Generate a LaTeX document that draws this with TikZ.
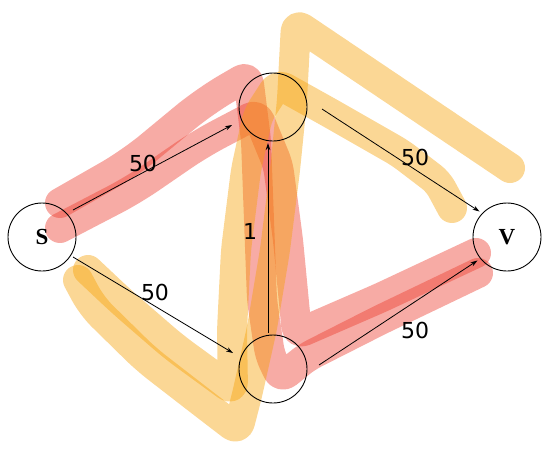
\documentclass[tikz,border=0pt]{standalone}
\usepackage{fontspec}
\newfontfamily\lblfont{DejaVu Sans}
\newfontfamily\vertfont{Liberation Serif}
\usetikzlibrary{arrows.meta}
\definecolor{hlred}{RGB}{236,60,46}
\definecolor{hlorange}{RGB}{246,162,9}
\begin{document}
\begin{tikzpicture}[x=1pt,y=-1pt,
  hl/.style={line width=30pt,line cap=round,line join=round,draw opacity=0.43,rounded corners=8pt},
  redhl/.style={hl,draw=hlred},
  orahl/.style={hl,draw=hlorange},
  vert/.style={circle,draw,line width=0.9pt,minimum size=68pt,inner sep=0pt,font=\vertfont\bfseries\fontsize{23}{25}\selectfont},
  elbl/.style={font=\lblfont\fontsize{22}{24}\selectfont,inner sep=0pt},
  arr/.style={line width=0.8pt,-{Stealth[length=7pt,width=4.5pt]}}]
\useasboundingbox (0,0) rectangle (548,448);
% red highlight strokes
\draw[redhl,rounded corners=25pt] (60,203) -- (130,163) -- (205,101) [rounded corners=8pt] -- (248,76) -- (256,140) -- (262,300) -- (270,355) -- (281,378) -- (307,357) -- (380,320) -- (478,273);
\draw[redhl,rounded corners=20pt] (60,228) -- (133,190) -- (200,144) [rounded corners=8pt] -- (257,114) -- (278,165) -- (288,240) -- (297,334) -- (380,298) -- (476,253);
% orange highlight strokes
\draw[orahl,rounded corners=14pt] (78,280) -- (92,306) -- (146,359) -- (208,407) [rounded corners=8pt] -- (238,430) -- (247,395) -- (262,328) -- (275,250) -- (285,170) -- (292,100) -- (296,24) -- (510,168);
\draw[orahl,rounded corners=14pt] (88,270) -- (122,302) -- (174,347) [rounded corners=8pt] -- (233,390) -- (232,330) -- (236,250) -- (246,170) -- (258,115) -- (278,84) -- (330,113) -- (400,153) -- (438,182) -- (452,208);
% vertices
\node[vert] (S) at (42,237) {S};
\node[vert] (T) at (273,107) {};
\node[vert] (B) at (273,369) {};
\node[vert] (V) at (507,237) {V};
% arrows
\draw[arr] ([shift={(31,-27)}]S.center) -- ([shift={(-41,18)}]T.center);
\draw[arr] ([shift={(49,2)}]T.center) -- ([shift={(-27.5,-25.5)}]V.center);
\draw[arr] ([shift={(31,20)}]S.center) -- ([shift={(-40,-16)}]B.center);
\draw[arr] ([shift={(46,-4)}]B.center) -- ([shift={(-29.5,23.5)}]V.center);
\draw[arr] ([shift={(-5,-36)}]B.center) -- ([shift={(-5,36)}]T.center);
% edge labels
\node[elbl] (lST) at (143,163) {50};
\node[elbl] (lSB) at (155,292) {50};
\node[elbl] (lTV) at (415,157) {50};
\node[elbl] (lBV) at (415,330) {50};
\node[elbl] (lBT) at (250,231) {1};
\end{tikzpicture}
\end{document}
